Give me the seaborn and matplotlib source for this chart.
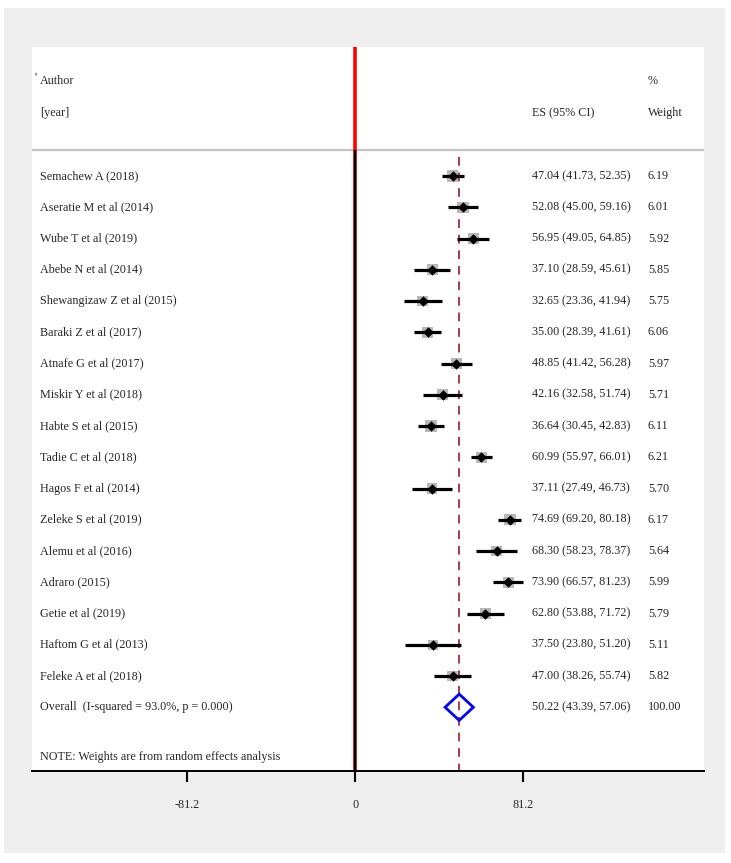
import matplotlib
matplotlib.use("Agg")
import matplotlib.pyplot as plt
import seaborn as sns
import pandas as pd
from matplotlib.patches import Rectangle, Polygon

studies = ["Semachew A (2018)", "Aseratie M et al (2014)", "Wube T et al (2019)",
           "Abebe N et al (2014)", "Shewangizaw Z et al (2015)", "Baraki Z et al (2017)",
           "Atnafe G et al (2017)", "Miskir Y et al (2018)", "Habte S et al (2015)",
           "Tadie C et al (2018)", "Hagos F et al (2014)", "Zeleke S et al (2019)",
           "Alemu et al (2016)", "Adraro (2015)", "Getie et al (2019)",
           "Haftom G et al (2013)", "Feleke A et al (2018)"]
es = [47.04, 52.08, 56.95, 37.10, 32.65, 35.00, 48.85, 42.16, 36.64, 60.99,
      37.11, 74.69, 68.30, 73.90, 62.80, 37.50, 47.00]
lo = [41.73, 45.00, 49.05, 28.59, 23.36, 28.39, 41.42, 32.58, 30.45, 55.97,
      27.49, 69.20, 58.23, 66.57, 53.88, 23.80, 38.26]
hi = [52.35, 59.16, 64.85, 45.61, 41.94, 41.61, 56.28, 51.74, 42.83, 66.01,
      46.73, 80.18, 78.37, 81.23, 71.72, 51.20, 55.74]
weights = [6.19, 6.01, 5.92, 5.85, 5.75, 6.06, 5.97, 5.71, 6.11, 6.21,
           5.70, 6.17, 5.64, 5.99, 5.79, 5.11, 5.82]
overall_label = "Overall  (I-squared = 93.0%, p = 0.000)"
overall_es, overall_lo, overall_hi, overall_w = 50.22, 43.39, 57.06, 100.00
note = "NOTE: Weights are from random effects analysis"
xticks = [-81.2, 0, 81.2]

df = pd.DataFrame({"study": studies, "es": es, "lo": lo, "hi": hi, "w": weights})
df["row"] = range(len(df))
n = len(df)

sns.set_style("white")
plt.rcParams["font.family"] = ["Liberation Serif", "DejaVu Serif"]
FS = 8.7

W, H = 731, 863
fig = plt.figure(figsize=(W / 100, H / 100), dpi=100)
fig.patch.set_facecolor("white")
bg = Rectangle((4 / W, 1 - 853 / H), 721 / W, 845 / H,
               transform=fig.transFigure, facecolor="#efefef",
               edgecolor="none", zorder=-10)
fig.patches.append(bg)
ax = fig.add_axes([32 / W, 1 - 771 / H, 672 / W, 724 / H])
ax.set_zorder(5)
ax.set_facecolor("white")

# pixel -> data mapping helpers (layout only)
px_per_unit = 2.069
x0_px = 355.3
row_px = 31.25
row0_px = 176.0
def xd(px):
    return (px - x0_px) / px_per_unit
def yd(py):
    return (py - row0_px) / row_px

ax.set_xlim(xd(32), xd(704))
ax.set_ylim(yd(771), yd(47))

sep_y = yd(150)
ax.axhline(sep_y, color="#c4c4c4", lw=1.6, zorder=1)
ax.vlines(0, yd(47), sep_y, color="#ff0000", lw=2.6, zorder=2)
ax.vlines(0, sep_y, yd(771), color="#d00000", lw=2.6, zorder=2)
ax.vlines(-0.25, sep_y, yd(771), color="black", lw=1.6, zorder=3)
ax.vlines(overall_es, yd(157), yd(771), color="#a83c4a", lw=1.4,
          linestyles=(0, (4.5, 3.5)), zorder=2)

ax.hlines(df["row"], df["lo"], df["hi"], color="black", lw=2.3, zorder=4)
sns.scatterplot(data=df, x="es", y="row", size="w", sizes=(50, 68), marker="s",
                color="#b8b8b8", edgecolor="none", legend=False, ax=ax, zorder=3)
sns.scatterplot(data=df, x="es", y="row", marker="D", s=24, color="black",
                edgecolor="black", legend=False, ax=ax, zorder=5)

yo = n
hh = 0.42
ax.add_patch(Polygon([(overall_lo, yo), (overall_es, yo - hh), (overall_hi, yo),
                      (overall_es, yo + hh)], closed=True, fill=False,
                     edgecolor="#0000ff", lw=2.0, zorder=5))

xa, xe, xw = xd(40), xd(532), xd(648)
ax.text(xd(34), yd(77), "'", fontsize=FS, va="center", ha="left")
ax.text(xa, yd(81), "Author", fontsize=FS, va="center")
ax.text(xa, yd(113), "[year]", fontsize=FS, va="center")
ax.text(xe, yd(113), "ES (95% CI)", fontsize=FS, va="center")
ax.text(xw, yd(81), "%", fontsize=FS, va="center")
ax.text(xw, yd(113), "Weight", fontsize=FS, va="center")
for _, r in df.iterrows():
    ax.text(xa, r["row"], r["study"], fontsize=FS, va="center")
    ax.text(xe, r["row"], f"{r['es']:.2f} ({r['lo']:.2f}, {r['hi']:.2f})",
            fontsize=FS, va="center")
    ax.text(xw, r["row"], f"{r['w']:.2f}", fontsize=FS, va="center")
ax.text(xa, yo, overall_label, fontsize=FS, va="center")
ax.text(xe, yo, f"{overall_es:.2f} ({overall_lo:.2f}, {overall_hi:.2f})",
        fontsize=FS, va="center")
ax.text(xw, yo, f"{overall_w:.2f}", fontsize=FS, va="center")
ax.text(xa, yd(757), note, fontsize=FS, va="center")

for s in ["top", "right", "left"]:
    ax.spines[s].set_visible(False)
ax.spines["bottom"].set_color("black")
ax.spines["bottom"].set_linewidth(1.4)
ax.set_yticks([])
ax.set_xticks(xticks)
ax.set_xticklabels(["-81.2", "0", "81.2"], fontsize=FS)
ax.tick_params(axis="x", direction="out", length=8, width=1.5, color="black",
               pad=12, bottom=True)
ax.set_xlabel("")
ax.set_ylabel("")

fig.savefig("out.png", dpi=100, facecolor="white")
